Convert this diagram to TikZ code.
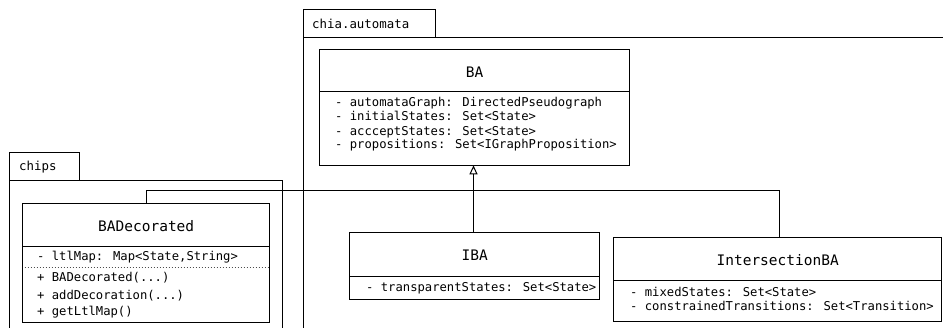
\documentclass[tikz,border=0pt]{standalone}
\usepackage{fontspec}
\newfontfamily\umlfont{DejaVu Sans Mono}
\usetikzlibrary{arrows.meta}
\tikzset{
  x=1pt, y=-1pt,
  umlline/.style={line width=1pt, draw=black},
  pkgline/.style={umlline},
  classpart/.style={anchor=north west, inner sep=0pt},
  classname/.style={inner sep=0pt, text height=11pt, text depth=0pt,
                    font=\umlfont\fontsize{14.5}{16}\selectfont},
  member/.style={anchor=west, inner sep=0pt, text height=9pt, text depth=1pt,
                 font=\umlfont\fontsize{12.2}{14}\selectfont},
  pkglabel/.style={member, font=\umlfont\fontsize{12.4}{14}\selectfont},
  inherit/.style={umlline},
}
\begin{document}
\begin{tikzpicture}
\useasboundingbox[fill=white] (0,0) rectangle (943,328);

% package chips
\draw[pkgline] (9.5,181) -- (9.5,152.5) -- (79.5,152.5) -- (79.5,181);
\draw[pkgline] (9.5,340) -- (9.5,181) -- (282.5,181) -- (282.5,340);
\node[pkglabel] (chipslbl) at (19,166.5) {chips};

% package chia.automata
\draw[pkgline] (303.5,38) -- (303.5,9.5) -- (435.5,9.5) -- (435.5,38);
\draw[pkgline] (303,340) -- (303,38) -- (950,38);
\node[pkglabel] (chialbl) at (312,24.5) {chia.automata};

% class BA
\node[classpart, minimum width=310pt, minimum height=42pt] (ba) at (319.5,49.5) {};
\node[classpart, minimum width=310pt, minimum height=73pt] (babody) at (ba.south west) {};
\draw[umlline] (ba.north west) rectangle (babody.south east);
\draw[umlline] (ba.south west) -- (ba.south east);
\node[classname] (baname) at (ba.center |- 0,72) {BA};
\node[member] (ba1) at (335,103) {- automataGraph: DirectedPseudograph};
\node[member] (ba2) at (335,117) {- initialStates: Set<State>};
\node[member] (ba3) at (335,131.5) {- accceptStates: Set<State>};
\node[member] (ba4) at (335,145) {- propositions: Set<IGraphProposition>};

% class IBA
\node[classpart, minimum width=250pt, minimum height=43pt] (iba) at (349.5,233) {};
\node[classpart, minimum width=250pt, minimum height=23pt] (ibabody) at (iba.south west) {};
\draw[umlline] (iba.north west) rectangle (ibabody.south east);
\draw[umlline] (iba.south west) -- (iba.south east);
\node[classname] (ibaname) at (iba.center |- 0,255) {IBA};
\node[member] (iba1) at (366,288) {- transparentStates: Set<State>};

% class IntersectionBA
\node[classpart, minimum width=328pt, minimum height=42.5pt] (isect) at (613.5,238) {};
\node[classpart, minimum width=328pt, minimum height=40pt] (isectbody) at (isect.south west) {};
\draw[umlline] (isect.north west) rectangle (isectbody.south east);
\draw[umlline] (isect.south west) -- (isect.south east);
\node[classname] (isectname) at (isect.center |- 0,260) {IntersectionBA};
\node[member] (is1) at (630,292.5) {- mixedStates: Set<State>};
\node[member] (is2) at (630,307) {- constrainedTransitions: Set<Transition>};

% class BADecorated
\node[classpart, minimum width=247pt, minimum height=43pt] (badec) at (22.5,203.5) {};
\node[classpart, minimum width=247pt, minimum height=75pt] (badecbody) at (badec.south west) {};
\draw[umlline] (badec.north west) rectangle (badecbody.south east);
\draw[umlline] (badec.south west) -- (badec.south east);
\draw[dotted, line width=1pt, black!70] ([xshift=2pt]badec.south west |- 0,268) -- ([xshift=-2pt]badec.south east |- 0,268);
\node[classname] (badecname) at (badec.center |- 0,226) {BADecorated};
\node[member] (bd1) at (37,257) {- ltlMap: Map<State,String>};
\node[member] (bd2) at (37,278) {+ BADecorated(...)};
\node[member] (bd3) at (37,295.5) {+ addDecoration(...)};
\node[member] (bd4) at (37,312) {+ getLtlMap()};

% generalisation tree towards BA
\coordinate (busL) at (146,191);
\coordinate (busR) at (779,191);
\draw[inherit] (busL |- badec.north) -- (busL) -- (busR) -- (busR |- isect.north);
\draw[umlline, -{Triangle[open, length=9pt, width=8pt]}] (iba.north -| 473.5,0) -- (473.5,0 |- babody.south);
\end{tikzpicture}
\end{document}
